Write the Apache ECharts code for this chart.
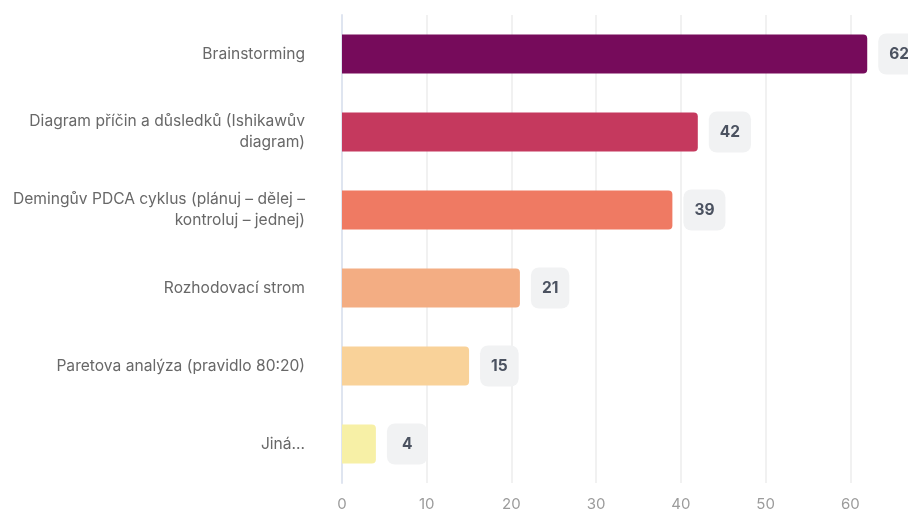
<!DOCTYPE html>
<html>
<head>
<meta charset="utf-8">
<script src="https://cdn.jsdelivr.net/npm/echarts@6/dist/echarts.min.js"></script>
<style>
  html, body { margin: 0; padding: 0; background: #ffffff; }
  #chart { width: 908px; height: 511px; }
</style>
</head>
<body>
<div id="chart"></div>
<script>
// Methods for problem analysis and how many respondents picked each one
const categories = [
  'Brainstorming',
  'Diagram příčin a důsledků (Ishikawův\ndiagram)',
  'Demingův PDCA cyklus (plánuj – dělej –\nkontroluj – jednej)',
  'Rozhodovací strom',
  'Paretova analýza (pravidlo 80:20)',
  'Jiná...'
];
const counts = [62, 42, 39, 21, 15, 4];
const barColors = ['#760b5b', '#c5395e', '#ef7a63', '#f3ad83', '#f9d299', '#f7f0a6'];
const tickValues = [0, 10, 20, 30, 40, 50, 60, 70];

const chart = echarts.init(document.getElementById('chart'), null, { renderer: 'canvas' });

const seriesData = counts.map((v, i) => ({
  value: v,
  itemStyle: { color: barColors[i] },
  label: {
    // keep the value pill a constant width for one- and two-digit numbers
    padding: String(v).length > 1 ? [13, 11, 13, 11] : [13, 15, 13, 15]
  }
}));

chart.setOption({
  animation: false,
  backgroundColor: '#ffffff',
  textStyle: { fontFamily: 'Inter, "Noto Sans", sans-serif' },
  grid: {
    left: 342, top: 15, height: 468, width: 593,
    containLabel: false,
    outerBoundsMode: 'none'
  },
  xAxis: {
    type: 'value',
    min: tickValues[0],
    max: tickValues[tickValues.length - 1],
    interval: 10,
    axisLine: { show: false },
    axisTick: { show: false },
    axisLabel: { color: '#9b9b9b', fontSize: 15, margin: 14, fontFamily: 'Inter' },
    splitLine: { show: true, lineStyle: { color: '#ededed', width: 1.5 } }
  },
  yAxis: {
    type: 'category',
    inverse: true,
    data: categories,
    axisLine: { show: true, lineStyle: { color: '#dfe5f0', width: 2 } },
    axisTick: { show: false },
    axisLabel: {
      color: '#686868',
      fontSize: 15.6,
      margin: 37,
      lineHeight: 21,
      align: 'right',
      padding: [4, 0, 0, 0],
      fontFamily: 'Inter'
    }
  },
  series: [{
    type: 'bar',
    data: seriesData,
    barWidth: 39,
    itemStyle: { borderRadius: [0, 4, 4, 0] },
    z: 1,
    label: {
      show: true,
      position: 'right',
      distance: 11,
      color: '#4b5260',
      fontWeight: 'bold',
      fontSize: 15.5,
      fontFamily: 'Inter',
      backgroundColor: '#f1f2f3',
      borderRadius: 8,
      lineHeight: 15
    }
  }]
});
</script>
</body>
</html>
